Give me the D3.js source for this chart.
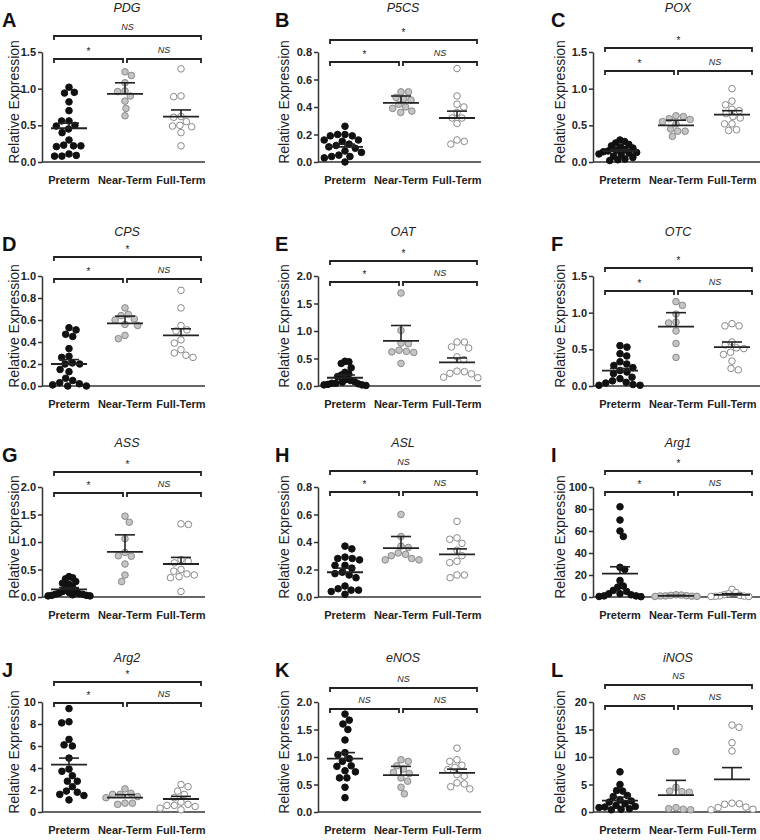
<!DOCTYPE html>
<html>
<head>
<meta charset="utf-8">
<script src="https://cdn.jsdelivr.net/npm/d3@7"></script>
<style>
  html, body { margin: 0; padding: 0; background: #fff; }
  svg { display: block; font-family: "Liberation Sans", Arial, sans-serif; }
</style>
</head>
<body>
<svg id="chart" width="760" height="840"></svg>
<script>
// ---------------- DATA ----------------
const groups = ["Preterm", "Near-Term", "Full-Term"];
const genes = ["PDG", "P5CS", "POX", "CPS", "OAT", "OTC", "ASS", "ASL", "Arg1", "Arg2", "eNOS", "iNOS"];
const panelLetters = ["A", "B", "C", "D", "E", "F", "G", "H", "I", "J", "K", "L"];
const yMaxes = [1.5, 0.8, 1.5, 1.0, 2.0, 1.5, 2.0, 0.8, 100, 10, 2.0, 20];
const yTickSteps = [0.5, 0.2, 0.5, 0.2, 0.5, 0.5, 0.5, 0.2, 20, 2, 0.5, 5];
const sigPreFull = ["NS", "*", "*", "*", "*", "*", "*", "NS", "*", "*", "NS", "NS"];
const sigPreNear = ["*", "*", "*", "*", "*", "*", "*", "*", "*", "*", "NS", "NS"];
const sigNearFull = ["NS", "NS", "NS", "NS", "NS", "NS", "NS", "NS", "NS", "NS", "NS", "NS"];

const pretermValues = [
  [1.02, 0.95, 0.94, 0.82, 0.70, 0.56, 0.56, 0.50, 0.49, 0.45, 0.40, 0.30, 0.23, 0.22, 0.22, 0.21, 0.11, 0.09, 0.08, 0.08],
  [0.26, 0.20, 0.20, 0.19, 0.19, 0.16, 0.16, 0.15, 0.13, 0.12, 0.11, 0.10, 0.08, 0.07, 0.05, 0.04, 0.04, 0.03, 0.00],
  [0.30, 0.28, 0.26, 0.24, 0.22, 0.20, 0.19, 0.17, 0.16, 0.15, 0.14, 0.13, 0.12, 0.11, 0.10, 0.08, 0.06, 0.04, 0.03, 0.02],
  [0.53, 0.51, 0.47, 0.45, 0.34, 0.27, 0.26, 0.21, 0.20, 0.20, 0.15, 0.13, 0.07, 0.05, 0.03, 0.02, 0.01, 0.00, 0.00],
  [0.45, 0.44, 0.41, 0.33, 0.25, 0.22, 0.20, 0.17, 0.12, 0.10, 0.08, 0.07, 0.05, 0.05, 0.04, 0.03, 0.02, 0.02, 0.01],
  [0.55, 0.53, 0.44, 0.41, 0.33, 0.30, 0.28, 0.25, 0.21, 0.19, 0.17, 0.12, 0.10, 0.07, 0.05, 0.04, 0.02, 0.01, 0.01],
  [0.37, 0.35, 0.33, 0.28, 0.25, 0.23, 0.18, 0.15, 0.12, 0.10, 0.08, 0.07, 0.06, 0.05, 0.05, 0.04, 0.03, 0.03, 0.02, 0.02],
  [0.37, 0.35, 0.29, 0.28, 0.28, 0.27, 0.23, 0.23, 0.21, 0.18, 0.17, 0.16, 0.14, 0.08, 0.06, 0.05, 0.05, 0.04, 0.02],
  [82, 70, 60, 55, 27, 25, 15, 10, 9, 6, 5, 3, 3, 2, 1, 1, 0.5, 0.3],
  [9.4, 8.2, 8.1, 6.6, 6.1, 6.0, 4.9, 3.9, 3.7, 3.3, 2.8, 2.8, 2.3, 1.9, 1.8, 1.6, 1.5, 1.1],
  [1.78, 1.67, 1.60, 1.50, 1.31, 1.08, 1.04, 0.97, 0.92, 0.84, 0.83, 0.75, 0.73, 0.62, 0.62, 0.45, 0.26],
  [7.3, 5.0, 3.9, 3.8, 3.0, 2.8, 2.2, 2.0, 1.8, 1.5, 1.2, 1.0, 0.9, 0.8, 0.6, 0.5, 0.4]
];
const nearTermValues = [
  [1.23, 1.18, 1.08, 0.97, 0.96, 0.90, 0.83, 0.73, 0.63],
  [0.51, 0.51, 0.47, 0.46, 0.45, 0.42, 0.40, 0.39, 0.37, 0.36],
  [0.63, 0.62, 0.59, 0.58, 0.55, 0.52, 0.45, 0.42, 0.42, 0.35],
  [0.71, 0.65, 0.64, 0.61, 0.60, 0.56, 0.55, 0.46, 0.43],
  [1.69, 1.01, 0.78, 0.77, 0.65, 0.63, 0.62, 0.61, 0.41],
  [1.15, 1.10, 0.98, 0.87, 0.86, 0.75, 0.58, 0.39],
  [1.47, 1.36, 1.06, 0.81, 0.75, 0.74, 0.60, 0.40, 0.28],
  [0.60, 0.44, 0.37, 0.36, 0.32, 0.31, 0.30, 0.28, 0.27, 0.27],
  [2.0, 1.8, 1.5, 1.2, 1.0, 0.9, 0.7, 0.6, 0.5],
  [2.1, 1.7, 1.6, 1.6, 1.4, 1.3, 0.8, 0.8, 0.7],
  [0.95, 0.92, 0.84, 0.78, 0.72, 0.70, 0.62, 0.56, 0.45, 0.33],
  [11.0, 4.5, 3.8, 3.7, 3.6, 0.8, 0.6, 0.5, 0.4]
];
const fullTermValues = [
  [1.27, 0.90, 0.89, 0.62, 0.61, 0.55, 0.50, 0.49, 0.48, 0.40, 0.22],
  [0.68, 0.48, 0.42, 0.40, 0.36, 0.32, 0.32, 0.28, 0.16, 0.15, 0.13],
  [1.00, 0.83, 0.78, 0.72, 0.70, 0.66, 0.62, 0.60, 0.52, 0.52, 0.44, 0.43],
  [0.87, 0.71, 0.55, 0.51, 0.50, 0.42, 0.39, 0.33, 0.30, 0.28, 0.26],
  [0.80, 0.80, 0.71, 0.69, 0.53, 0.48, 0.27, 0.26, 0.23, 0.22, 0.16, 0.15],
  [0.85, 0.82, 0.82, 0.60, 0.56, 0.52, 0.51, 0.46, 0.43, 0.34, 0.24, 0.22],
  [1.33, 1.32, 0.68, 0.65, 0.62, 0.50, 0.47, 0.42, 0.40, 0.37, 0.35, 0.10],
  [0.55, 0.43, 0.42, 0.39, 0.34, 0.30, 0.26, 0.25, 0.16, 0.16, 0.14],
  [7, 4, 3, 2, 1.5, 1, 0.8, 0.6, 0.5, 0.5],
  [2.5, 2.3, 1.9, 1.6, 1.3, 0.9, 0.7, 0.6, 0.6, 0.5, 0.35, 0.2],
  [1.16, 0.95, 0.92, 0.85, 0.81, 0.77, 0.68, 0.65, 0.53, 0.51, 0.46, 0.42],
  [15.8, 15.4, 12.6, 11.1, 1.6, 1.5, 1.4, 0.9, 0.8, 0.5, 0.4]
];
// group means and SEMs as drawn (Preterm, Near-Term, Full-Term)
const groupMeans = [
  [0.46, 0.93, 0.62], [0.11, 0.43, 0.32], [0.15, 0.50, 0.645], [0.20, 0.57, 0.46],
  [0.15, 0.82, 0.43], [0.21, 0.81, 0.53], [0.14, 0.82, 0.60], [0.18, 0.355, 0.31],
  [21.3, 1.1, 1.9], [4.3, 1.3, 1.18], [0.97, 0.67, 0.71], [2.08, 3.06, 5.93]
];
const groupSEMs = [
  [0.07, 0.15, 0.09], [0.02, 0.05, 0.05], [0.02, 0.07, 0.055], [0.04, 0.065, 0.06],
  [0.05, 0.28, 0.08], [0.03, 0.19, 0.07], [0.03, 0.31, 0.12], [0.03, 0.085, 0.04],
  [6.2, 0.4, 1.1], [0.6, 0.28, 0.24], [0.11, 0.16, 0.07], [0.62, 2.69, 2.14]
];

// ---------------- LAYOUT ----------------
const colAxisX = [42, 318, 593];
const colAxisW = [163, 163, 167];
const colTitleX = [14, 284, 560];
const colLetterX = [2, 275, 551];
const rowTop = [52, 276, 487, 702];
const plotH = 110;
const labelDy = 22;
const swarmHalfW = 21;
// bracket vertical offsets relative to axis top: [overall bracket, pairwise brackets]
const bracketDy = [
  [-16, 7], [-12, 10], [-4, 19],
  [-19, 3], [-15, 6], [-8, 15],
  [-15, 6], [-16, 5], [-16, 5],
  [-20, 1], [-14, 7], [-17, 4]
];
const dotR = 3.3;
const styles = [
  { fill: "#111", stroke: "#111" },
  { fill: "#c4c4c4", stroke: "#8a8a8a" },
  { fill: "#fff", stroke: "#8a8a8a" }
];

const svg = d3.select("#chart");

function swarm(values, y, r, halfW) {
  const pts = values.map(v => ({ v, y: y(v), x: 0 })).sort((a, b) => b.v - a.v);
  const placed = [];
  const D = 2 * r + 0.8;
  pts.forEach((p, idx) => {
    const cands = [0];
    placed.forEach(q => {
      const dy = Math.abs(q.y - p.y);
      if (dy < D) {
        const dx = Math.sqrt(D * D - dy * dy);
        cands.push(q.x + dx, q.x - dx);
      }
    });
    cands.sort((a, b) => Math.abs(a) - Math.abs(b) || (idx % 2 ? b - a : a - b));
    for (const c of cands) {
      const ok = placed.every(q => (q.x - c) ** 2 + (q.y - p.y) ** 2 >= D * D - 0.01);
      if (ok) { p.x = c; break; }
    }
    placed.push(p);
  });
  const maxAbs = d3.max(pts, p => Math.abs(p.x));
  if (maxAbs > halfW) pts.forEach(p => { p.x = p.x * halfW / maxAbs; });
  return pts;
}

genes.forEach((gene, i) => {
  const col = i % 3, row = Math.floor(i / 3);
  const ax = colAxisX[col], aw = colAxisW[col];
  const top = rowTop[row], bottom = top + plotH;
  const g = svg.append("g");

  const y = d3.scaleLinear().domain([0, yMaxes[i]]).range([bottom, top]);
  const x = d3.scalePoint().domain(groups).range([ax + 27, ax + 139]);

  // y axis
  const ticks = d3.range(0, yMaxes[i] + yTickSteps[i] / 2, yTickSteps[i]);
  const fmt = yMaxes[i] >= 10 ? d3.format("d") : d3.format(".1f");
  const yAxis = g.append("g").attr("transform", `translate(${ax},0)`)
    .call(d3.axisLeft(y).tickValues(ticks).tickFormat(fmt).tickSize(4).tickSizeOuter(0).tickPadding(2));
  yAxis.select(".domain").attr("stroke", "#333").attr("stroke-width", 1.5);
  yAxis.selectAll(".tick line").attr("stroke", "#333").attr("stroke-width", 1.5);
  yAxis.selectAll(".tick text").attr("font-size", 11).attr("font-weight", "bold").attr("fill", "#222")
    .attr("font-family", "'Liberation Sans', Arial, sans-serif");

  // x axis line
  g.append("line").attr("x1", ax).attr("x2", ax + aw).attr("y1", bottom).attr("y2", bottom)
    .attr("stroke", "#333").attr("stroke-width", 1.5);

  // category labels
  groups.forEach(gr => {
    g.append("text").attr("x", x(gr)).attr("y", bottom + labelDy).attr("text-anchor", "middle")
      .attr("font-size", 11).attr("font-weight", "bold").attr("fill", "#222").text(gr);
  });

  // y title
  g.append("text").attr("transform", `translate(${colTitleX[col] + 5},${(top + bottom) / 2 - 5}) rotate(-90)`)
    .attr("text-anchor", "middle").attr("font-size", 14).attr("fill", "#222").text("Relative Expression");

  // panel letter
  g.append("text").attr("x", colLetterX[col]).attr("y", top - 25)
    .attr("font-size", 20).attr("font-weight", "bold").attr("fill", "#111").text(panelLetters[i]);

  // gene title
  g.append("text").attr("x", x("Near-Term") + 2).attr("y", top - 40).attr("text-anchor", "middle")
    .attr("font-size", 12.5).attr("font-style", "italic").attr("fill", "#222").text(gene);

  // brackets
  const bTop = top + bracketDy[i][0], bLow = top + bracketDy[i][1];
  const xl = x("Preterm") - 15, xm = x("Near-Term"), xr = x("Full-Term") + 20;
  const bracket = (x1, x2, yy, label) => {
    g.append("path").attr("d", `M${x1},${yy + 4}V${yy}H${x2}V${yy + 4}`)
      .attr("fill", "none").attr("stroke", "#222").attr("stroke-width", 1.8);
    const isNS = label === "NS";
    g.append("text").attr("x", (x1 + x2) / 2).attr("y", isNS ? yy - 6 : yy - 4)
      .attr("text-anchor", "middle").attr("font-size", isNS ? 9 : 10)
      .attr("font-style", isNS ? "italic" : "normal").attr("fill", "#222").text(label);
  };
  bracket(xl, xr, bTop, sigPreFull[i]);
  bracket(xl, xm - 2, bLow, sigPreNear[i]);
  bracket(xm + 2, xr, bLow, sigNearFull[i]);

  // dots
  const sets = [pretermValues[i], nearTermValues[i], fullTermValues[i]];
  sets.forEach((vals, k) => {
    const cx = x(groups[k]);
    const pts = swarm(vals, y, dotR, swarmHalfW);
    g.append("g").selectAll("circle").data(pts).join("circle")
      .attr("cx", d => cx + d.x).attr("cy", d => d.y).attr("r", dotR)
      .attr("fill", styles[k].fill).attr("stroke", styles[k].stroke).attr("stroke-width", 1);
  });

  // mean + SEM
  groups.forEach((gr, k) => {
    const cx = x(gr), m = groupMeans[i][k], s = groupSEMs[i][k];
    g.append("line").attr("x1", cx - 18).attr("x2", cx + 18).attr("y1", y(m)).attr("y2", y(m))
      .attr("stroke", "#222").attr("stroke-width", 1.8);
    g.append("line").attr("x1", cx).attr("x2", cx).attr("y1", y(m)).attr("y2", y(m + s))
      .attr("stroke", "#222").attr("stroke-width", 1.6);
    g.append("line").attr("x1", cx - 10).attr("x2", cx + 10).attr("y1", y(m + s)).attr("y2", y(m + s))
      .attr("stroke", "#222").attr("stroke-width", 1.6);
  });
});
</script>
</body>
</html>
